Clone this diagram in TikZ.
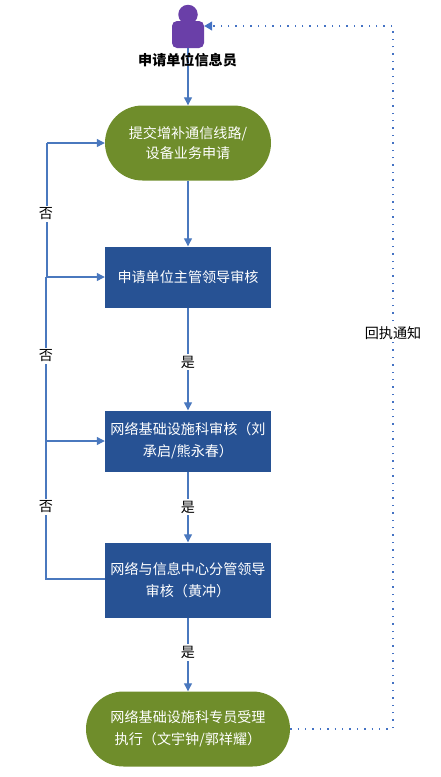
\documentclass[tikz,border=0pt]{standalone}
\usepackage{fontspec}
\setmainfont{Noto Sans CJK SC}
\usetikzlibrary{arrows.meta,shapes.misc}
\definecolor{olv}{HTML}{6F8D2B}
\definecolor{navy}{HTML}{275294}
\definecolor{lnk}{HTML}{4472C4}
\definecolor{lnkb}{HTML}{4A78BE}
\definecolor{purp}{HTML}{6A3FA8}
\tikzset{
  x=1pt,y=-1pt,
  flowline/.style={draw=lnkb,line width=1.2pt},
  flowarrow/.style={flowline,-{Triangle[length=8pt,width=8pt]}},
  notice/.style={draw=lnk,line width=1.2pt,dash pattern=on 1.4pt off 6pt,-{Triangle[length=8pt,width=9pt]}},
  pill/.style={rounded rectangle,fill=olv,draw=none,text=white,font=\fontsize{14.1pt}{20pt}\selectfont,align=center},
  box/.style={rectangle,fill=navy,draw=none,text=white,font=\fontsize{14.1pt}{20pt}\selectfont,align=center,minimum width=166pt,minimum height=61pt,inner sep=3pt,text width=160pt},
  tag/.style={fill=white,inner sep=2pt,text=black,font=\fontsize{14.1pt}{15pt}\selectfont},
}
\begin{document}
\begin{tikzpicture}
\useasboundingbox (0,0) rectangle (440,777);
\node[fill=purp,circle,minimum size=19.5pt,inner sep=0pt] (head) at (188,14.5) {};
\node[fill=purp,rounded corners=5pt,minimum width=32pt,minimum height=27pt,inner sep=0pt] (body) at (188,34.5) {};
\node[pill,minimum width=166pt,minimum height=75pt,inner sep=0pt] (submit) at (188,143) {提交增补通信线路/\\设备业务申请};
\node[box] (lead) at (188,277) {申请单位主管领导审核};
\node[box] (infra) at (188,441) {网络基础设施科审核（刘\\[2pt]承启/熊永春）};
\node[box,minimum height=75pt] (center) at (188,580) {网络与信息中心分管领导\\[2pt]审核（黄冲）};
\node[pill,minimum width=204pt,minimum height=75pt,inner sep=0pt] (exec) at (188,729) {网络基础设施科专员受理\\[2pt]执行（文宇钟/郭祥耀）};
\coordinate (l1) at (47,143);
\coordinate (l2) at (47,277);
\coordinate (l2b) at (46,277);
\coordinate (l3) at (46,441);
\coordinate (l4) at (46,579);
\coordinate (r1) at (393,729);
\coordinate (r2) at (393,26);
\draw[flowarrow] (body.south) -- (submit.north);
\draw[flowarrow] (submit.south) -- (lead.north);
\draw[flowarrow] (lead.south) -- node[tag,pos=0.53]{是} (infra.north);
\draw[flowarrow] (infra.south) -- node[tag,pos=0.5]{是} (center.north);
\draw[flowarrow] (center.south) -- node[tag,pos=0.47]{是} (exec.north);
\draw[flowline] (center.west |- l4) -- (l4) -- (l3);
\draw[flowarrow] (l3) -- (l3 -| infra.west);
\draw[flowline] (l3) -- (l2b);
\draw[flowarrow] (l2b) -- (l2 -| lead.west);
\draw[flowline] (l2) -- (l1);
\draw[flowarrow] (l1) -- (submit.west);
\node[tag] (no1) at (46,214) {否};
\node[tag] (no2) at (46,356) {否};
\node[tag] (no3) at (46,507) {否};
\draw[notice] (exec.east) -- (r1) -- (r2) -- (body.east |- r2);
\node[tag] (notify) at (393,333) {回执通知};
\node[inner sep=1pt,font=\fontsize{14.1pt}{15pt}\selectfont\bfseries,text=black] (who) at (187.5,60.5) {申请单位信息员};
\end{tikzpicture}
\end{document}
